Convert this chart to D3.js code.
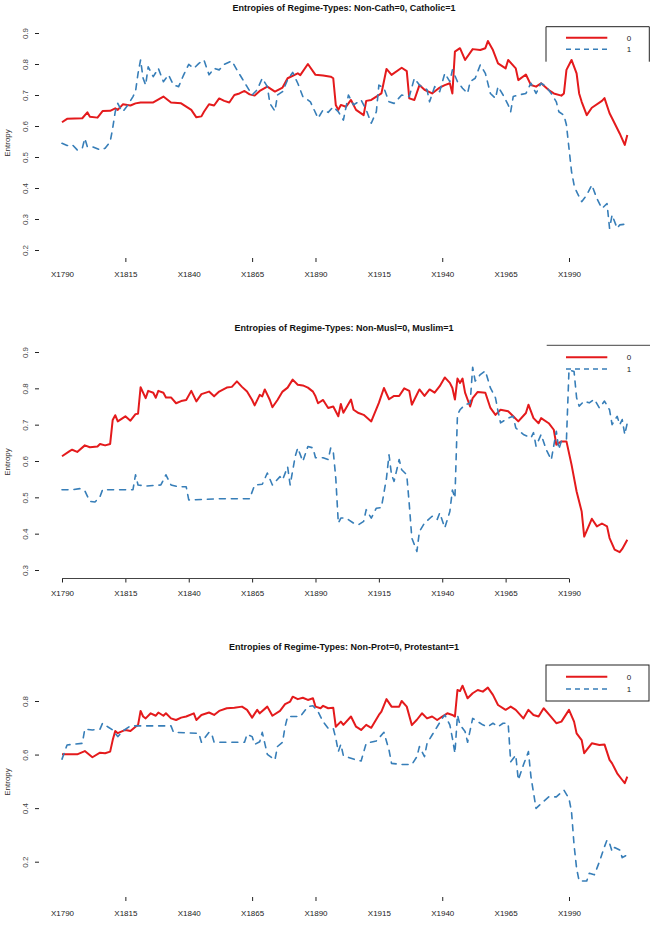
<!DOCTYPE html>
<html>
<head>
<meta charset="utf-8">
<script src="https://cdn.jsdelivr.net/npm/d3@7"></script>
<style>
  html, body { margin: 0; padding: 0; background: #fff; }
  svg { display: block; font-family: "Liberation Sans", Arial, sans-serif; }
</style>
</head>
<body>
<svg id="chart" width="656" height="942"></svg>
<script>
// ---------------- DATA ----------------
const xTickYears = [1790, 1815, 1840, 1865, 1890, 1915, 1940, 1965, 1990];
const xTickLabels = ["X1790", "X1815", "X1840", "X1865", "X1890", "X1915", "X1940", "X1965", "X1990"];
const seriesNames = ["0", "1"];
const titles = [
  "Entropies of Regime-Types: Non-Cath=0, Catholic=1",
  "Entropies of Regime-Types: Non-Musl=0, Muslim=1",
  "Entropies of Regime-Types: Non-Prot=0, Protestant=1"
];
const yTicks1 = [0.2, 0.3, 0.4, 0.5, 0.6, 0.7, 0.8, 0.9];
const yTicks2 = [0.3, 0.4, 0.5, 0.6, 0.7, 0.8, 0.9];
const yTicks3 = [0.2, 0.4, 0.6, 0.8];

// Catholic panel: series 0 (non-Catholic) and 1 (Catholic)
const cath0 = [[1790,0.612],[1792,0.623],[1798,0.625],[1800,0.644],[1801,0.630],[1804,0.627],[1806,0.648],[1809,0.649],[1811,0.657],[1812,0.652],[1814,0.670],[1817,0.666],[1819,0.673],[1821,0.676],[1826,0.676],[1830,0.695],[1833,0.676],[1837,0.673],[1841,0.652],[1843,0.628],[1845,0.631],[1846,0.646],[1848,0.670],[1850,0.666],[1852,0.689],[1854,0.681],[1856,0.676],[1858,0.700],[1860,0.705],[1862,0.713],[1864,0.702],[1866,0.698],[1868,0.713],[1871,0.727],[1874,0.711],[1877,0.724],[1879,0.754],[1883,0.770],[1884,0.764],[1887,0.800],[1890,0.765],[1893,0.763],[1896,0.759],[1897,0.754],[1898,0.668],[1899,0.652],[1900,0.668],[1902,0.662],[1904,0.684],[1906,0.652],[1909,0.635],[1910,0.681],[1912,0.684],[1916,0.705],[1918,0.784],[1920,0.765],[1924,0.788],[1926,0.777],[1927,0.689],[1929,0.684],[1931,0.732],[1933,0.717],[1936,0.705],[1939,0.724],[1941,0.732],[1943,0.738],[1944,0.705],[1945,0.840],[1947,0.851],[1949,0.813],[1952,0.848],[1955,0.845],[1957,0.851],[1958,0.874],[1960,0.845],[1962,0.802],[1965,0.786],[1966,0.813],[1969,0.786],[1970,0.748],[1973,0.766],[1975,0.732],[1977,0.727],[1979,0.738],[1982,0.716],[1984,0.705],[1987,0.698],[1988,0.705],[1989,0.781],[1991,0.813],[1993,0.770],[1994,0.705],[1995,0.678],[1997,0.635],[1999,0.659],[2003,0.681],[2004,0.690],[2006,0.641],[2007,0.625],[2010,0.576],[2012,0.539],[2013,0.571]];
const cath1 = [[1790,0.544],[1792,0.537],[1794,0.540],[1796,0.523],[1798,0.528],[1799,0.560],[1800,0.533],[1802,0.533],[1805,0.523],[1807,0.528],[1809,0.549],[1810,0.593],[1811,0.646],[1812,0.673],[1813,0.657],[1814,0.646],[1816,0.668],[1818,0.695],[1819,0.711],[1820,0.770],[1821,0.813],[1822,0.754],[1823,0.732],[1824,0.791],[1826,0.759],[1828,0.786],[1830,0.743],[1832,0.765],[1834,0.732],[1836,0.727],[1838,0.765],[1840,0.799],[1842,0.786],[1844,0.802],[1846,0.813],[1848,0.765],[1850,0.786],[1852,0.781],[1854,0.799],[1857,0.810],[1859,0.781],[1861,0.754],[1863,0.727],[1865,0.700],[1867,0.717],[1869,0.754],[1871,0.727],[1872,0.673],[1874,0.648],[1875,0.700],[1877,0.711],[1879,0.749],[1881,0.773],[1883,0.738],[1885,0.695],[1888,0.678],[1891,0.625],[1893,0.652],[1895,0.644],[1897,0.662],[1899,0.646],[1901,0.619],[1903,0.700],[1905,0.668],[1908,0.684],[1910,0.652],[1912,0.609],[1914,0.646],[1915,0.732],[1917,0.722],[1919,0.678],[1921,0.673],[1924,0.700],[1927,0.695],[1929,0.754],[1931,0.732],[1934,0.717],[1935,0.678],[1937,0.727],[1939,0.711],[1941,0.770],[1943,0.743],[1944,0.781],[1946,0.743],[1948,0.722],[1950,0.705],[1951,0.743],[1953,0.754],[1955,0.797],[1957,0.770],[1959,0.705],[1961,0.689],[1962,0.727],[1964,0.700],[1966,0.668],[1967,0.646],[1968,0.695],[1970,0.700],[1973,0.705],[1975,0.738],[1977,0.705],[1979,0.738],[1981,0.727],[1983,0.705],[1985,0.678],[1986,0.646],[1988,0.635],[1989,0.603],[1990,0.528],[1991,0.453],[1992,0.410],[1993,0.388],[1995,0.356],[1997,0.377],[1999,0.410],[2001,0.366],[2003,0.334],[2005,0.350],[2006,0.270],[2007,0.313],[2009,0.270],[2010,0.281],[2012,0.283],[2013,0.278]];

// Muslim panel
const musl0 = [[1790,0.613],[1793,0.627],[1794,0.631],[1796,0.625],[1799,0.643],[1801,0.638],[1804,0.640],[1805,0.647],[1807,0.643],[1809,0.647],[1810,0.713],[1811,0.726],[1812,0.709],[1815,0.723],[1817,0.711],[1819,0.729],[1820,0.730],[1821,0.803],[1823,0.773],[1824,0.793],[1826,0.788],[1827,0.774],[1828,0.793],[1830,0.788],[1831,0.775],[1833,0.775],[1835,0.759],[1837,0.765],[1839,0.768],[1841,0.793],[1843,0.764],[1845,0.784],[1848,0.791],[1850,0.778],[1852,0.791],[1855,0.802],[1857,0.804],[1859,0.819],[1861,0.804],[1863,0.791],[1865,0.768],[1866,0.753],[1868,0.782],[1869,0.778],[1870,0.797],[1872,0.768],[1873,0.748],[1875,0.768],[1877,0.791],[1879,0.802],[1881,0.824],[1883,0.810],[1885,0.808],[1887,0.802],[1889,0.791],[1890,0.778],[1891,0.759],[1893,0.768],[1895,0.746],[1897,0.750],[1899,0.723],[1900,0.757],[1901,0.733],[1904,0.769],[1905,0.741],[1907,0.732],[1909,0.727],[1912,0.709],[1915,0.760],[1917,0.801],[1919,0.770],[1921,0.779],[1923,0.779],[1925,0.800],[1927,0.793],[1928,0.755],[1930,0.783],[1931,0.797],[1933,0.779],[1935,0.797],[1937,0.788],[1939,0.806],[1941,0.830],[1943,0.815],[1944,0.801],[1945,0.769],[1946,0.827],[1947,0.815],[1948,0.827],[1949,0.788],[1951,0.750],[1952,0.773],[1954,0.790],[1957,0.788],[1959,0.746],[1961,0.727],[1963,0.741],[1966,0.737],[1968,0.723],[1970,0.709],[1973,0.732],[1974,0.755],[1976,0.718],[1978,0.704],[1979,0.718],[1982,0.704],[1984,0.686],[1985,0.645],[1987,0.654],[1989,0.654],[1991,0.590],[1993,0.516],[1995,0.461],[1996,0.392],[1999,0.441],[2001,0.420],[2003,0.428],[2005,0.420],[2006,0.388],[2008,0.356],[2010,0.349],[2011,0.358],[2013,0.383]];
const musl1 = [[1790,0.521],[1794,0.521],[1797,0.524],[1799,0.518],[1801,0.489],[1803,0.487],[1805,0.502],[1806,0.521],[1818,0.521],[1819,0.562],[1820,0.534],[1823,0.531],[1829,0.534],[1831,0.562],[1833,0.534],[1836,0.529],[1839,0.529],[1840,0.493],[1842,0.493],[1851,0.496],[1864,0.496],[1866,0.534],[1869,0.536],[1871,0.567],[1873,0.534],[1876,0.557],[1877,0.548],[1879,0.584],[1880,0.534],[1882,0.613],[1883,0.636],[1885,0.599],[1887,0.640],[1889,0.636],[1890,0.609],[1893,0.609],[1895,0.604],[1896,0.636],[1897,0.627],[1898,0.553],[1899,0.429],[1900,0.443],[1902,0.443],[1905,0.429],[1907,0.425],[1909,0.434],[1910,0.466],[1912,0.443],[1914,0.470],[1916,0.472],[1918,0.553],[1919,0.617],[1920,0.562],[1921,0.544],[1923,0.604],[1924,0.576],[1926,0.562],[1927,0.480],[1928,0.388],[1930,0.351],[1931,0.406],[1933,0.429],[1936,0.448],[1938,0.439],[1939,0.457],[1941,0.416],[1943,0.461],[1944,0.520],[1945,0.498],[1946,0.727],[1947,0.741],[1949,0.755],[1951,0.759],[1952,0.858],[1953,0.820],[1955,0.838],[1957,0.848],[1959,0.801],[1961,0.774],[1962,0.737],[1963,0.705],[1966,0.718],[1968,0.723],[1969,0.691],[1972,0.673],[1975,0.664],[1976,0.678],[1977,0.641],[1979,0.673],[1981,0.632],[1983,0.603],[1985,0.682],[1986,0.632],[1987,0.655],[1989,0.660],[1990,0.851],[1992,0.846],[1993,0.774],[1994,0.751],[1996,0.765],[1998,0.760],[2000,0.770],[2002,0.746],[2004,0.765],[2006,0.741],[2007,0.700],[2009,0.723],[2010,0.700],[2011,0.714],[2012,0.673],[2013,0.705]];

// Protestant panel
const prot0 = [[1790,0.601],[1796,0.601],[1799,0.613],[1802,0.590],[1805,0.607],[1807,0.605],[1809,0.611],[1810,0.654],[1811,0.688],[1812,0.680],[1815,0.692],[1817,0.688],[1819,0.704],[1820,0.710],[1821,0.763],[1822,0.742],[1823,0.735],[1825,0.754],[1827,0.745],[1828,0.757],[1830,0.745],[1831,0.754],[1833,0.735],[1835,0.729],[1837,0.738],[1839,0.742],[1842,0.754],[1843,0.729],[1845,0.748],[1848,0.757],[1850,0.748],[1852,0.763],[1855,0.773],[1858,0.775],[1861,0.779],[1863,0.767],[1865,0.738],[1867,0.767],[1868,0.754],[1871,0.779],[1873,0.745],[1876,0.763],[1878,0.788],[1880,0.798],[1881,0.816],[1883,0.807],[1885,0.812],[1887,0.804],[1889,0.810],[1890,0.779],[1892,0.773],[1893,0.782],[1895,0.773],[1897,0.775],[1898,0.704],[1900,0.723],[1901,0.711],[1904,0.742],[1906,0.704],[1908,0.692],[1910,0.711],[1912,0.700],[1915,0.748],[1916,0.760],[1918,0.807],[1920,0.779],[1923,0.779],[1924,0.800],[1926,0.779],[1928,0.710],[1930,0.730],[1932,0.754],[1934,0.735],[1936,0.742],[1938,0.729],[1940,0.742],[1942,0.754],[1944,0.748],[1945,0.742],[1946,0.841],[1947,0.837],[1948,0.857],[1950,0.810],[1952,0.829],[1954,0.841],[1956,0.835],[1958,0.850],[1960,0.823],[1962,0.785],[1965,0.767],[1967,0.779],[1969,0.767],[1972,0.735],[1974,0.767],[1976,0.748],[1978,0.742],[1980,0.773],[1982,0.751],[1985,0.717],[1987,0.723],[1990,0.767],[1992,0.723],[1993,0.679],[1995,0.654],[1996,0.605],[1999,0.642],[2002,0.636],[2004,0.638],[2006,0.580],[2007,0.567],[2009,0.530],[2011,0.505],[2012,0.493],[2013,0.518]];
const prot1 = [[1790,0.583],[1792,0.636],[1794,0.638],[1798,0.642],[1799,0.695],[1802,0.692],[1805,0.695],[1806,0.717],[1808,0.704],[1810,0.692],[1812,0.667],[1814,0.688],[1817,0.707],[1833,0.707],[1834,0.683],[1844,0.679],[1845,0.646],[1848,0.683],[1849,0.679],[1850,0.646],[1862,0.646],[1863,0.676],[1865,0.667],[1866,0.638],[1868,0.648],[1869,0.683],[1870,0.642],[1871,0.601],[1874,0.580],[1875,0.630],[1877,0.646],[1878,0.704],[1879,0.742],[1884,0.742],[1887,0.779],[1889,0.782],[1891,0.760],[1893,0.723],[1895,0.698],[1897,0.698],[1898,0.661],[1899,0.611],[1900,0.638],[1901,0.596],[1906,0.580],[1908,0.576],[1910,0.642],[1914,0.651],[1917,0.683],[1919,0.617],[1920,0.567],[1924,0.563],[1928,0.563],[1930,0.592],[1931,0.630],[1933,0.592],[1934,0.642],[1936,0.673],[1938,0.704],[1940,0.735],[1941,0.748],[1943,0.711],[1944,0.661],[1945,0.605],[1946,0.748],[1947,0.711],[1949,0.686],[1950,0.646],[1952,0.735],[1954,0.723],[1956,0.711],[1958,0.704],[1960,0.717],[1962,0.704],[1964,0.717],[1966,0.717],[1967,0.573],[1969,0.598],[1970,0.505],[1972,0.561],[1974,0.611],[1975,0.517],[1977,0.399],[1979,0.417],[1982,0.442],[1985,0.442],[1988,0.467],[1990,0.436],[1991,0.386],[1992,0.262],[1993,0.175],[1994,0.128],[1997,0.128],[1998,0.157],[2000,0.151],[2001,0.175],[2002,0.200],[2004,0.256],[2005,0.281],[2006,0.269],[2007,0.238],[2008,0.253],[2010,0.244],[2011,0.215],[2013,0.226]];

// ---------------- LAYOUT / STYLE ----------------
const RED = "#e41a1c", BLUE = "#377eb8", INK = "#222";
const svg = d3.select("#chart");
const x = d3.scaleLinear().domain([1790, 2013]).range([62, 627.3]);

const panels = [
  { title: titles[0], titleY: 11, s0: cath0, s1: cath1, yDom: [0.2, 0.9], yRange: [250, 33], yTicks: yTicks1,
    xAxisY: 258, labelOff: 19, tickOn: [1815, 1865, 1890, 1940, 1990], axisLine: false, ylabY: 143,
    legend: { type: "open3", x0: 546, x1: 649.3, y0: 26.7, y1: 61.7, l0: 37.7, l1: 49.3 } },
  { title: titles[1], titleY: 331, s0: musl0, s1: musl1, yDom: [0.3, 0.9], yRange: [570, 352], yTicks: yTicks2,
    xAxisY: 578.5, labelOff: 17.5, tickOn: xTickYears, axisLine: true, ylabY: 462,
    legend: { type: "top", x0: 546.7, x1: 650, y0: 345.3, l0: 357.3, l1: 369 } },
  { title: titles[2], titleY: 650, s0: prot0, s1: prot1, yDom: [0.2, 0.8], yRange: [861.7, 701], yTicks: yTicks3,
    xAxisY: 897, labelOff: 19, tickOn: [1815, 1865, 1890, 1940, 1990], axisLine: false, ylabY: 782,
    legend: { type: "box", x0: 546, x1: 649, y0: 665, y1: 701, l0: 676.7, l1: 689 } }
];

panels.forEach(p => {
  const y = d3.scaleLinear().domain(p.yDom).range(p.yRange);
  const g = svg.append("g");

  // title
  g.append("text").attr("x", 344).attr("y", p.titleY).attr("text-anchor", "middle")
    .attr("font-size", 9).attr("font-weight", "bold").attr("fill", "#111").text(p.title);

  // y axis
  const ya = g.append("g").attr("transform", "translate(39,0)")
    .call(d3.axisLeft(y).tickValues(p.yTicks).tickSize(4).tickFormat(d3.format(".1f")));
  ya.select(".domain").remove();
  ya.selectAll(".tick line").attr("stroke", INK);
  ya.selectAll(".tick text").attr("transform", "rotate(-90)").attr("x", 0).attr("y", -11)
    .attr("dy", 0).attr("text-anchor", "middle").attr("font-size", 8).attr("fill", "#444")
    .attr("font-family", "Liberation Sans, Arial, sans-serif");

  // y label
  g.append("text").attr("transform", `translate(10,${p.ylabY}) rotate(-90)`)
    .attr("text-anchor", "middle").attr("font-size", 8).attr("fill", "#333").text("Entropy");

  // x axis
  const xa = g.append("g").attr("transform", `translate(0,${p.xAxisY})`)
    .call(d3.axisBottom(x).tickValues(xTickYears).tickSize(4)
      .tickFormat((d, i) => xTickLabels[i]));
  xa.select(".domain").remove();
  xa.selectAll(".tick line").attr("stroke", INK)
    .attr("opacity", d => p.tickOn.includes(d) ? 1 : 0);
  xa.selectAll(".tick text").attr("y", p.labelOff).attr("dy", 0).attr("font-size", 8)
    .attr("fill", "#222").attr("font-family", "Liberation Sans, Arial, sans-serif");
  if (p.axisLine) {
    xa.append("line").attr("x1", x(xTickYears[0])).attr("x2", x(xTickYears[xTickYears.length - 1]))
      .attr("y1", 0).attr("y2", 0).attr("stroke", "#444").attr("stroke-width", 1.2);
  }

  // lines
  const line = d3.line().x(d => x(d[0])).y(d => y(d[1]));
  g.append("path").datum(p.s0).attr("d", line).attr("fill", "none").attr("stroke", RED)
    .attr("stroke-width", 2).attr("stroke-linejoin", "round");
  g.append("path").datum(p.s1).attr("d", line).attr("fill", "none").attr("stroke", BLUE)
    .attr("stroke-width", 1.6).attr("stroke-dasharray", "6,6").attr("stroke-linecap", "round")
    .attr("stroke-linejoin", "round");

  // legend
  const L = p.legend;
  const lg = g.append("g");
  if (L.type === "open3") {
    lg.append("path").attr("d", `M${L.x0},${L.y1}V${L.y0}H${L.x1}V${L.y1}`)
      .attr("fill", "none").attr("stroke", INK).attr("stroke-width", 1);
  } else if (L.type === "top") {
    lg.append("line").attr("x1", L.x0).attr("x2", L.x1).attr("y1", L.y0).attr("y2", L.y0)
      .attr("stroke", "#444").attr("stroke-width", 1);
  } else {
    lg.append("rect").attr("x", L.x0).attr("y", L.y0).attr("width", L.x1 - L.x0).attr("height", L.y1 - L.y0)
      .attr("fill", "white").attr("stroke", INK).attr("stroke-width", 1);
  }
  lg.append("line").attr("x1", 566).attr("x2", 607.3).attr("y1", L.l0).attr("y2", L.l0)
    .attr("stroke", RED).attr("stroke-width", 2);
  lg.append("line").attr("x1", 566).attr("x2", 607.3).attr("y1", L.l1).attr("y2", L.l1)
    .attr("stroke", BLUE).attr("stroke-width", 1.6).attr("stroke-dasharray", "5,4");
  [L.l0, L.l1].forEach((ly, i) => {
    lg.append("text").attr("x", 629).attr("y", ly + 3).attr("text-anchor", "middle")
      .attr("font-size", 8).attr("fill", "#222").text(seriesNames[i]);
  });
});
</script>
</body>
</html>
